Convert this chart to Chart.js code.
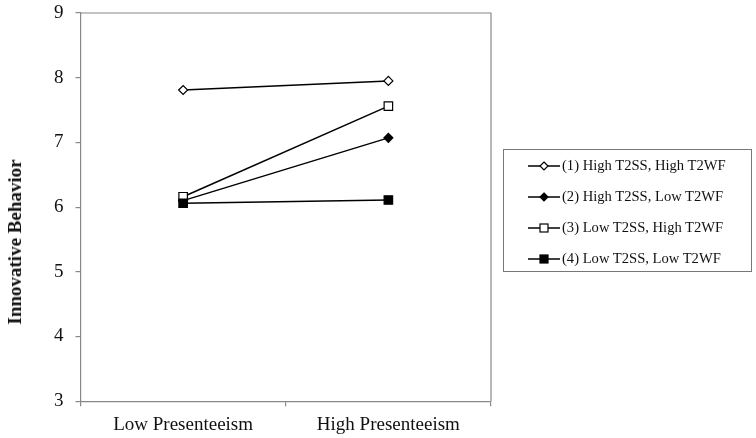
<!DOCTYPE html>
<html>
<head>
<meta charset="utf-8">
<script src="https://cdn.jsdelivr.net/npm/chart.js@4/dist/chart.umd.min.js"></script>
<style>
    body { margin: 0; background: #fff; }
    #wrap { position: relative; width: 756px; height: 438px; }
    #ytitle {
        position: absolute; left: 15px; top: 242px; transform: translate(-50%, -50%) rotate(-90deg);
        white-space: nowrap; font-family: "Liberation Serif", "Times New Roman", serif;
        font-size: 19px; font-weight: bold; color: #111;
    }
    #legend {
        position: absolute; left: 503px; top: 149px; width: 249px; height: 123px;
        border: 1px solid #777; box-sizing: border-box;
        font-family: "Liberation Serif", "Times New Roman", serif; font-size: 14.6px; color: #111;
        padding-top: 0px;
    }
    .row { display: flex; align-items: center; height: 31px; padding-left: 24px; }
    .row svg { margin-right: 2px; }
</style>
</head>
<body>
<div id="wrap">
    <canvas id="chart" width="756" height="438"></canvas>
    <div id="ytitle">Innovative Behavior</div>
    <div id="legend"></div>
</div>
<script>
const categories = ['Low Presenteeism', 'High Presenteeism'];
const seriesNames = ['(1) High T2SS, High T2WF', '(2) High T2SS, Low T2WF', '(3) Low T2SS, High T2WF', '(4) Low T2SS, Low T2WF'];
const highSSHighWF = [7.81, 7.95];
const highSSLowWF = [6.10, 7.07];
const lowSSHighWF = [6.16, 7.56];
const lowSSLowWF = [6.06, 6.11];
const yTicks = [3, 4, 5, 6, 7, 8, 9];

const serif = '"Liberation Serif", "Times New Roman", serif';

// marker look per series
const markers = [
    { style: 'rectRot', fill: '#fff', r: 4.5 },
    { style: 'rectRot', fill: '#000', r: 4.5 },
    { style: 'rect', fill: '#fff', r: 6 },
    { style: 'rect', fill: '#000', r: 6 }
];
const values = [highSSHighWF, highSSLowWF, lowSSHighWF, lowSSLowWF];

const datasets = values.map((v, i) => ({
    label: seriesNames[i],
    data: v,
    borderColor: '#000',
    borderWidth: 1.5,
    pointStyle: markers[i].style,
    pointRadius: markers[i].r,
    pointBackgroundColor: markers[i].fill,
    pointBorderColor: '#000',
    pointBorderWidth: 1.2,
    tension: 0,
    order: 4 - i  // series 4 on top like the original
}));

const frame = {
    id: 'frame',
    afterDraw(chart) {
        const a = chart.chartArea, c = chart.ctx;
        c.save();
        c.strokeStyle = '#888';
        c.lineWidth = 1.2;
        c.beginPath();
        c.moveTo(a.left, a.top);
        c.lineTo(a.right, a.top);
        c.lineTo(a.right, a.bottom);
        c.stroke();
        c.restore();
    }
};

new Chart(document.getElementById('chart'), {
    type: 'line',
    data: { labels: categories, datasets: datasets },
    options: {
        responsive: false,
        animation: false,
        layout: { padding: { top: 13, right: 265, left: 42, bottom: -5 } },
        plugins: { legend: { display: false }, tooltip: { enabled: false } },
        scales: {
            x: {
                offset: true,
                grid: { offset: true, drawOnChartArea: false, drawTicks: true, tickLength: 5, color: '#888', lineWidth: 1.2 },
                border: { color: '#888', width: 1.2 },
                ticks: { color: '#111', font: { family: serif, size: 19 }, padding: 7 }
            },
            y: {
                min: 3, max: 9,
                afterBuildTicks: axis => { axis.ticks = yTicks.map(v => ({ value: v })); },
                afterFit: axis => { axis.paddingTop = 0; axis.paddingBottom = 0; },
                grid: { drawOnChartArea: false, drawTicks: true, tickLength: 5, color: '#888', lineWidth: 1.2 },
                border: { color: '#888', width: 1.2 },
                ticks: { color: '#111', font: { family: serif, size: 19 }, padding: 12 }
            }
        }
    },
    plugins: [frame]
});

// html legend with line + marker samples
const legend = document.getElementById('legend');
seriesNames.forEach((name, i) => {
    const m = markers[i];
    let shape;
    if (m.style === 'rect') {
        shape = `<rect x="12" y="4" width="8" height="8" fill="${m.fill}" stroke="#000" stroke-width="1.2"/>`;
    } else {
        shape = `<polygon points="16,4 20,8 16,12 12,8" fill="${m.fill}" stroke="#000" stroke-width="1.2"/>`;
    }
    const row = document.createElement('div');
    row.className = 'row';
    row.innerHTML = `<svg width="32" height="16"><line x1="0" y1="8" x2="32" y2="8" stroke="#000" stroke-width="1.5"/>${shape}</svg><span>${name}</span>`;
    legend.appendChild(row);
});
</script>
</body>
</html>
